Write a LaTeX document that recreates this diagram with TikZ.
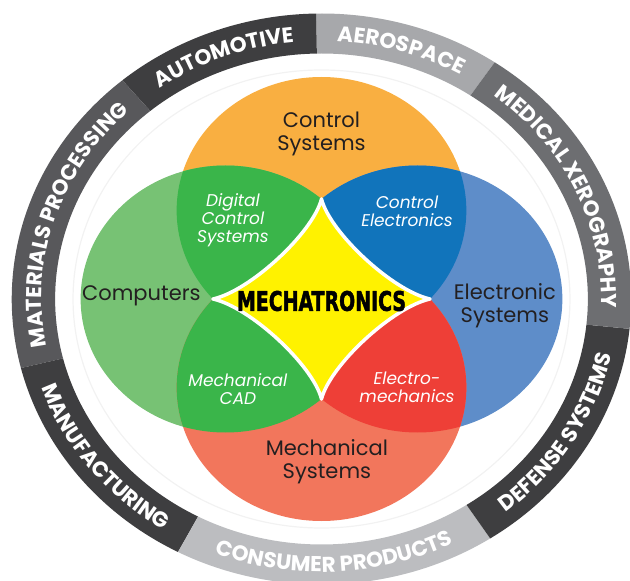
\documentclass[tikz,border=0pt]{standalone}
\usepackage{fontspec}
\usetikzlibrary{decorations.text}

\newfontfamily\poppins{Poppins}
\newfontfamily\mechafont{DejaVu Sans Condensed}[BoldFeatures={FakeBold=2}]
\newcommand\ringfont{\poppins\bfseries\fontsize{21.5}{21.5}\selectfont}

\definecolor{orangefill}{HTML}{F9AF41}
\definecolor{greenlight}{HTML}{77C274}
\definecolor{greendark}{HTML}{3AB54A}
\definecolor{bluelight}{HTML}{5E8DC9}
\definecolor{bluedark}{HTML}{1174BB}
\definecolor{salmonfill}{HTML}{F2765C}
\definecolor{reddark}{HTML}{EE3F37}
\definecolor{staryellow}{HTML}{FFF200}
\definecolor{textblack}{HTML}{231F20}
\definecolor{ringdark}{HTML}{3E3E40}
\definecolor{ringmid}{HTML}{58585B}
\definecolor{ringgray}{HTML}{6D6E71}
\definecolor{ringlight}{HTML}{A7A8AB}
\definecolor{ringpale}{HTML}{BCBDC0}

\tikzset{
  ringlabel/.style={decorate,decoration={text along path,text align=center,text color=white,text={|\ringfont|#1}}},
  bigtext/.style={font=\poppins\fontsize{21}{23}\selectfont,align=center,text=textblack},
  smalltext/.style={font=\poppins\itshape\fontsize{17}{18}\selectfont,align=center,text=white},
  centertext/.style={font=\mechafont\bfseries\fontsize{27}{27}\selectfont,text=black,inner sep=0pt}
}

\begin{document}
\begin{tikzpicture}[x=1.085pt,y=1pt]
\useasboundingbox (-321.5pt,-282pt) rectangle (308.5pt,299pt);

\fill[ringlight] (56:285.5) arc[start angle=56,end angle=91,radius=285.5] -- (91:245.5) arc[start angle=91,end angle=56,radius=245.5] -- cycle;
\fill[ringdark] (91:285.5) arc[start angle=91,end angle=130,radius=285.5] -- (130:245.5) arc[start angle=130,end angle=91,radius=245.5] -- cycle;
\fill[ringmid] (130:285.5) arc[start angle=130,end angle=194,radius=285.5] -- (194:245.5) arc[start angle=194,end angle=130,radius=245.5] -- cycle;
\fill[ringdark] (194:285.5) arc[start angle=194,end angle=242.4,radius=285.5] -- (242.4:245.5) arc[start angle=242.4,end angle=194,radius=245.5] -- cycle;
\fill[ringpale] (242.4:285.5) arc[start angle=242.4,end angle=303,radius=285.5] -- (303:245.5) arc[start angle=303,end angle=242.4,radius=245.5] -- cycle;
\fill[ringdark] (303:285.5) arc[start angle=303,end angle=354,radius=285.5] -- (354:245.5) arc[start angle=354,end angle=303,radius=245.5] -- cycle;
\fill[ringgray] (-6:285.5) arc[start angle=-6,end angle=56,radius=285.5] -- (56:245.5) arc[start angle=56,end angle=-6,radius=245.5] -- cycle;

\path[ringlabel=AEROSPACE] (91:258) arc[start angle=91,end angle=56,radius=258];
\path[ringlabel=AUTOMOTIVE] (130:258) arc[start angle=130,end angle=91,radius=258];
\path[ringlabel=MATERIALS PROCESSING] (194:258) arc[start angle=194,end angle=130,radius=258];
\path[ringlabel=MEDICAL XEROGRAPHY] (56:258) arc[start angle=56,end angle=-6,radius=258];
\path[ringlabel=MANUFACTURING] (194:273) arc[start angle=194,end angle=242.4,radius=273];
\path[ringlabel=CONSUMER PRODUCTS] (242.4:273) arc[start angle=242.4,end angle=303,radius=273];
\path[ringlabel=DEFENSE SYSTEMS] (303:273) arc[start angle=303,end angle=354,radius=273];

\draw[black!5,line width=1.2pt] (0,0) circle[radius=229];

\coordinate (ctop) at (0,88.5);
\coordinate (cleft) at (-88.5,0);
\coordinate (cright) at (88.5,0);
\coordinate (cbottom) at (0,-88.5);

\fill[orangefill] (ctop) circle[radius=133.5];
\fill[greenlight] (cleft) circle[radius=133.5];
\fill[bluelight] (cright) circle[radius=133.5];
\fill[salmonfill] (cbottom) circle[radius=133.5];

\begin{scope}
\clip (-200,0) rectangle (0,200);
\clip (ctop) circle[radius=133.5];
\fill[greendark] (cleft) circle[radius=133.5];
\end{scope}
\begin{scope}
\clip (0,0) rectangle (200,200);
\clip (ctop) circle[radius=133.5];
\fill[bluedark] (cright) circle[radius=133.5];
\end{scope}
\begin{scope}
\clip (-200,-200) rectangle (0,0);
\clip (cbottom) circle[radius=133.5];
\fill[greendark] (cleft) circle[radius=133.5];
\end{scope}
\begin{scope}
\clip (0,-200) rectangle (200,0);
\clip (cbottom) circle[radius=133.5];
\fill[reddark] (cright) circle[radius=133.5];
\end{scope}

\filldraw[fill=staryellow,draw=white,line width=3.5pt,line join=round] (0,100) .. controls (-8,66) and (-66,8) .. (-100,0) .. controls (-66,-8) and (-8,-66) .. (0,-100) .. controls (8,-66) and (66,-8) .. (100,0) .. controls (66,8) and (8,66) .. (0,100) -- cycle;

\node[bigtext] (control) at (0,165) {Control\\Systems};
\node[bigtext] (computers) at (-166,3) {Computers};
\node[bigtext] (electronic) at (169,-7) {Electronic\\Systems};
\node[bigtext] (mechanical) at (5,-163) {Mechanical\\Systems};
\node[smalltext] (digital) at (-81.6,79) {Digital\\Control\\Systems};
\node[smalltext] (ctrlelec) at (78.8,88) {Control\\Electronics};
\node[smalltext] (cad) at (-77,-90) {Mechanical\\CAD};
\node[smalltext] (electromech) at (78.8,-88) {Electro-\\mechanics};
\node[centertext] (mecha) at (0,-2) {\scalebox{0.78}[1]{MECHATRONICS}};
\end{tikzpicture}
\end{document}
